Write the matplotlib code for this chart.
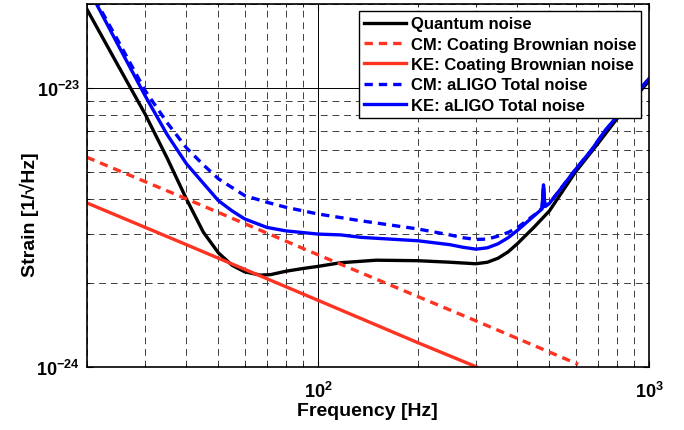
"""aLIGO noise budget: quantum noise vs coating Brownian noise (CM / KE)."""

import matplotlib

matplotlib.use("Agg")
import matplotlib.pyplot as plt
from matplotlib.ticker import FixedLocator, FuncFormatter, LogLocator, NullFormatter
import numpy as np

# values (frequency in Hz, strain in 1/sqrt(Hz))
quantum_f = [20, 25, 30, 35, 40, 45, 50, 55, 60, 67, 72, 80, 90, 100, 117, 150,
             200, 250, 300, 325, 350, 375, 400, 450, 500, 600, 700, 800, 900, 1000]
quantum_h = [1.92e-23, 1.19e-23, 8.07e-24, 5.6e-24, 4.0e-24, 3.04e-24, 2.56e-24,
             2.31e-24, 2.19e-24, 2.13e-24, 2.14e-24, 2.20e-24, 2.25e-24, 2.29e-24,
             2.36e-24, 2.41e-24, 2.40e-24, 2.37e-24, 2.34e-24, 2.37e-24, 2.45e-24,
             2.58e-24, 2.76e-24, 3.17e-24, 3.62e-24, 5.0e-24, 6.3e-24, 7.75e-24,
             9.15e-24, 1.06e-23]

cm_coating_f = [20, 40, 100, 300, 611]
cm_coating_h = [5.64e-24, 4.0e-24, 2.52e-24, 1.46e-24, 1.02e-24]

ke_coating_f = [20, 40, 100, 200, 300]
ke_coating_h = [3.87e-24, 2.74e-24, 1.73e-24, 1.22e-24, 1.0e-24]

cm_total_f = [20, 25, 30, 35, 40, 45, 50, 60, 70, 80, 100, 134, 200, 250, 275,
              300, 325, 350, 375, 400, 450, 475, 480, 485, 500, 600, 671, 735,
              800, 900, 1000]
cm_total_h = [2.35e-23, 1.46e-23, 9.8e-24, 7.5e-24, 6.1e-24, 5.3e-24, 4.72e-24,
              4.11e-24, 3.89e-24, 3.73e-24, 3.53e-24, 3.34e-24, 3.12e-24, 2.97e-24,
              2.90e-24, 2.86e-24, 2.87e-24, 2.94e-24, 3.03e-24, 3.15e-24, 3.5e-24,
              3.7e-24, 4.49e-24, 3.77e-24, 3.85e-24, 5.1e-24, 6.0e-24, 7.0e-24,
              7.9e-24, 9.3e-24, 1.08e-23]

ke_total_f = [20, 25, 30, 35, 40, 45, 50, 55, 60, 70, 80, 100, 117, 135, 200, 250,
              275, 300, 325, 350, 375, 400, 450, 475, 480, 485, 500, 600, 671, 735,
              800, 900, 1000]
ke_total_h = [2.33e-23, 1.41e-23, 9.39e-24, 6.8e-24, 5.35e-24, 4.55e-24, 3.94e-24,
              3.62e-24, 3.39e-24, 3.16e-24, 3.07e-24, 2.99e-24, 2.97e-24, 2.91e-24,
              2.83e-24, 2.74e-24, 2.68e-24, 2.64e-24, 2.67e-24, 2.76e-24, 2.90e-24,
              3.08e-24, 3.48e-24, 3.68e-24, 4.49e-24, 3.75e-24, 3.85e-24, 5.1e-24,
              6.0e-24, 7.0e-24, 7.9e-24, 9.3e-24, 1.08e-23]

x_major = [100, 1000]
y_major = [1e-24, 1e-23]

RED = "#ff3322"
BLUE = "#0000ff"

plt.rcParams["font.family"] = ["Liberation Sans", "DejaVu Sans"]
plt.rcParams["font.weight"] = "bold"
plt.rcParams["mathtext.fontset"] = "custom"
plt.rcParams["mathtext.rm"] = "Liberation Sans:bold"
plt.rcParams["mathtext.bf"] = "Liberation Sans:bold"
plt.rcParams["mathtext.it"] = "Liberation Sans:bold:italic"


def _pow_label(value, _pos):
    exponent = int(round(np.log10(value)))
    return r"$\mathbf{10^{%d}}$" % exponent


fig = plt.figure(figsize=(6.84, 4.31), dpi=100)
axis = fig.add_axes([0.1268, 0.1469, 0.8220, 0.8415])

lw = 2.4
axis.plot(quantum_f, quantum_h, color="black", linewidth=lw, label="Quantum noise")
axis.plot(cm_coating_f, cm_coating_h, color=RED, linewidth=lw, dashes=(2.5, 1.8),
          label="CM: Coating Brownian noise")
axis.plot(ke_coating_f, ke_coating_h, color=RED, linewidth=lw,
          label="KE: Coating Brownian noise")
axis.plot(cm_total_f, cm_total_h, color=BLUE, linewidth=lw, dashes=(2.5, 1.8),
          label="CM: aLIGO Total noise")
axis.plot(ke_total_f, ke_total_h, color=BLUE, linewidth=lw,
          label="KE: aLIGO Total noise")

axis.set_xscale("log")
axis.set_yscale("log")
axis.set_xlim(20, 1000)
axis.set_ylim(1e-24, 2e-23)

axis.xaxis.set_major_locator(FixedLocator(x_major))
axis.yaxis.set_major_locator(FixedLocator(y_major))
axis.xaxis.set_minor_locator(LogLocator(base=10, subs=np.arange(2, 10), numticks=20))
axis.yaxis.set_minor_locator(LogLocator(base=10, subs=np.arange(2, 10), numticks=20))
axis.xaxis.set_major_formatter(FuncFormatter(_pow_label))
axis.yaxis.set_major_formatter(FuncFormatter(_pow_label))
axis.xaxis.set_minor_formatter(NullFormatter())
axis.yaxis.set_minor_formatter(NullFormatter())

axis.grid(True, which="major", color="black", linewidth=0.7, linestyle="-")
axis.grid(True, which="minor", color="0.25", linewidth=0.7, linestyle=(0, (7, 5)))
axis.set_axisbelow(True)

axis.tick_params(which="both", direction="in", top=True, right=True, labelsize=13)
axis.tick_params(which="major", length=4, width=0.8)
axis.tick_params(which="minor", length=2.5, width=0.6)
axis.tick_params(axis="x", which="major", pad=10)
axis.tick_params(axis="y", which="major", pad=5)
for spine in axis.spines.values():
    spine.set_linewidth(1.2)

axis.set_xlabel("Frequency [Hz]", fontsize=14, fontweight="bold", labelpad=1)
axis.set_ylabel("Strain [1/\u221aHz]", fontsize=14, fontweight="bold")
axis.yaxis.set_label_coords(-0.085, 0.423)

legend = axis.legend(loc="upper right", fontsize=12, frameon=True, fancybox=False,
                     framealpha=1.0, edgecolor="black", handlelength=2.5,
                     handletextpad=0.3, labelspacing=0.32, borderpad=0.3,
                     borderaxespad=0.45)
legend.get_frame().set_linewidth(1.0)

fig.savefig("out.png", dpi=100)
